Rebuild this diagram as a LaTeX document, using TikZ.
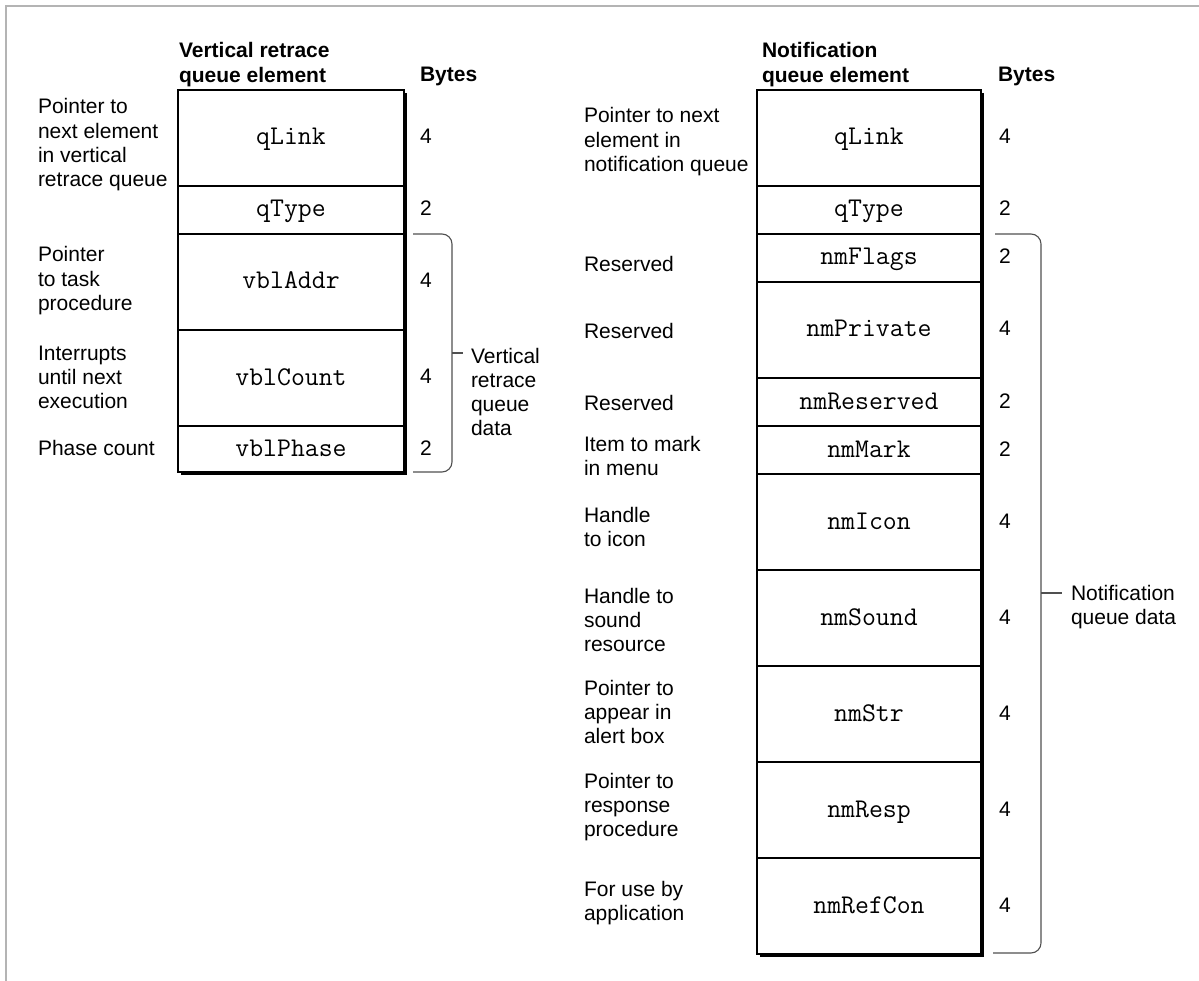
\documentclass[tikz,border=0pt]{standalone}
\usepackage{fontspec}
\setmainfont{Liberation Sans}
\usetikzlibrary{backgrounds}

% left-aligned multi-line label whose baseline is that of its first line
\newcommand\stack[1]{\begin{tabular}[t]{@{}l@{}}#1\end{tabular}}

\definecolor{framegray}{RGB}{180,180,180}
\definecolor{bracegray}{RGB}{80,80,80}

\begin{document}
\begin{tikzpicture}[x=1pt,y=-1pt,
  every node/.style={inner sep=0pt, outer sep=0pt},
  txt/.style={font=\fontsize{21}{24.3}\selectfont, anchor=base west},
  headtext/.style={txt, font=\fontsize{21}{24.3}\selectfont\bfseries},
  bytenum/.style={txt},
  cell/.style={draw=black, line width=1.2pt, fill=white,
    font=\fontsize{27}{30}\selectfont\ttfamily, text height=14pt, text depth=0pt},
  lcell/.style={cell, minimum width=226pt},
  rcell/.style={cell, minimum width=224pt},
  shadowfill/.style={fill=black},
  databrace/.style={draw=bracegray, line width=1.1pt, rounded corners=10pt},
  pageframe/.style={draw=framegray, line width=1.8pt}]

\useasboundingbox (0,0) rectangle (1199,981);

% page frame
\draw[pageframe] (6,981) -- (6,6) -- (1199,6);

% ---------------- vertical retrace queue element ----------------
\node[headtext] (vtitle) at (179,58) {\stack{Vertical retrace\\queue element}};
\node[headtext] (vbytes) at (420,82) {Bytes};

\node[lcell, minimum height=96pt] (vlink)  at (291,138)   {qLink};
\node[lcell, minimum height=48pt] (vtype)  at (291,210)   {qType};
\node[lcell, minimum height=96pt] (vaddr)  at (291,282)   {vblAddr};
\node[lcell, minimum height=96pt] (vcount) at (291,378)   {vblCount};
\node[lcell, minimum height=46pt] (vphase) at (291,449)   {vblPhase};

\begin{pgfonlayer}{background}
  \fill[shadowfill] ([shift={(3,3)}]vlink.north west) rectangle ([shift={(3,3)}]vphase.south east);
\end{pgfonlayer}

\node[txt] (vlinkd)  at (38,114) {\stack{Pointer to\\next element\\in vertical\\retrace queue}};
\node[txt] (vaddrd)  at (38,262) {\stack{Pointer\\to task\\procedure}};
\node[txt] (vcountd) at (38,360) {\stack{Interrupts\\until next\\execution}};
\node[txt] (vphased) at (38,455) {Phase count};

\node[bytenum] (vlinkb)  at (420,144)   {4};
\node[bytenum] (vtypeb)  at (420,216)   {2};
\node[bytenum] (vaddrb)  at (420,288)   {4};
\node[bytenum] (vcountb) at (420,384)   {4};
\node[bytenum] (vphaseb) at (420,455)   {2};

\coordinate (vbtop) at (413,234);
\coordinate (vbbot) at (413,472);
\coordinate (vbmid) at (452,353);
\coordinate (vbtip) at (463,353);
\draw[databrace] (vbtop) -- ++(39,0) |- (vbbot);
\draw[draw=bracegray, line width=1.1pt] (vbmid) -- (vbtip);
\node[txt] (vdata) at (471,363) {\stack{Vertical\\retrace\\queue\\data}};

% ---------------- notification queue element ----------------
\node[headtext] (ntitle) at (762,58) {\stack{Notification\\queue element}};
\node[headtext] (nbytes) at (998,82) {Bytes};

\node[rcell, minimum height=96pt] (nlink)  at (869,138) {qLink};
\node[rcell, minimum height=48pt] (ntype)  at (869,210) {qType};
\node[rcell, minimum height=48pt] (nflags) at (869,258) {nmFlags};
\node[rcell, minimum height=96pt] (npriv)  at (869,330) {nmPrivate};
\node[rcell, minimum height=48pt] (nres)   at (869,402) {nmReserved};
\node[rcell, minimum height=48pt] (nmark)  at (869,450) {nmMark};
\node[rcell, minimum height=96pt] (nicon)  at (869,522) {nmIcon};
\node[rcell, minimum height=96pt] (nsound) at (869,618) {nmSound};
\node[rcell, minimum height=96pt] (nstr)   at (869,714) {nmStr};
\node[rcell, minimum height=96pt] (nresp)  at (869,810) {nmResp};
\node[rcell, minimum height=96pt] (nref)   at (869,906) {nmRefCon};

\begin{pgfonlayer}{background}
  \fill[shadowfill] ([shift={(3,3)}]nlink.north west) rectangle ([shift={(3,3)}]nref.south east);
\end{pgfonlayer}

\node[txt] (nlinkd)  at (584,123) {\stack{Pointer to next\\element in\\notification queue}};
\node[txt] (nflagsd) at (584,272) {Reserved};
\node[txt] (nprivd)  at (584,339) {Reserved};
\node[txt] (nresd)   at (584,410) {Reserved};
\node[txt] (nmarkd)  at (584,451) {\stack{Item to mark\\in menu}};
\node[txt] (nicond)  at (584,522) {\stack{Handle\\to icon}};
\node[txt] (nsoundd) at (584,603) {\stack{Handle to\\sound\\resource}};
\node[txt] (nstrd)   at (584,695) {\stack{Pointer to\\appear in\\alert box}};
\node[txt] (nrespd)  at (584,788) {\stack{Pointer to\\response\\procedure}};
\node[txt] (nrefd)   at (584,896) {\stack{For use by\\application}};

\node[bytenum] (nlinkb)  at (999,144) {4};
\node[bytenum] (ntypeb)  at (999,216) {2};
\node[bytenum] (nflagsb) at (999,264) {2};
\node[bytenum] (nprivb)  at (999,336) {4};
\node[bytenum] (nresb)   at (999,408) {2};
\node[bytenum] (nmarkb)  at (999,456) {2};
\node[bytenum] (niconb)  at (999,528) {4};
\node[bytenum] (nsoundb) at (999,624) {4};
\node[bytenum] (nstrb)   at (999,720) {4};
\node[bytenum] (nrespb)  at (999,816) {4};
\node[bytenum] (nrefb)   at (999,912) {4};

\coordinate (nbtop) at (995,234);
\coordinate (nbbot) at (993,953);
\coordinate (nbmid) at (1041,593);
\coordinate (nbtip) at (1062,593);
\draw[databrace] (nbtop) -- ++(46,0) |- (nbbot);
\draw[draw=bracegray, line width=1.1pt] (nbmid) -- (nbtip);
\node[txt] (ndata) at (1071,600) {\stack{Notification\\queue data}};

\end{tikzpicture}
\end{document}
